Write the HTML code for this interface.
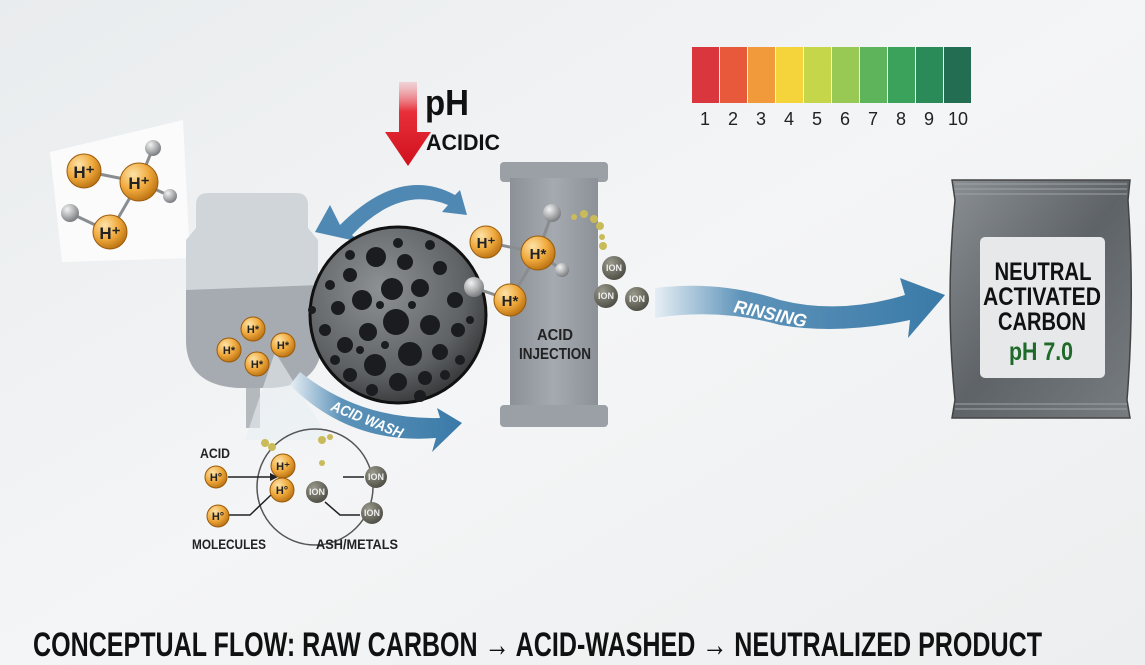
<!DOCTYPE html>
<html><head><meta charset="utf-8"><style>
html,body{margin:0;padding:0;width:1145px;height:665px;overflow:hidden;background:#eef0f1}
svg{display:block}
text{font-family:"Liberation Sans Narrow","Liberation Sans",sans-serif;font-weight:bold}
</style></head><body>
<svg width="1145" height="665" viewBox="0 0 1145 665" xmlns="http://www.w3.org/2000/svg">
<defs>
<linearGradient id="bg" x1="0" y1="0" x2="1" y2="1"><stop offset="0" stop-color="#e9ecee"/><stop offset="0.5" stop-color="#f4f5f6"/><stop offset="1" stop-color="#eceeef"/></linearGradient>
<radialGradient id="hg" cx="0.35" cy="0.3" r="0.75"><stop offset="0" stop-color="#fde3a8"/><stop offset="0.55" stop-color="#f0a93c"/><stop offset="1" stop-color="#b86f10"/></radialGradient>
<radialGradient id="gb" cx="0.35" cy="0.3" r="0.7"><stop offset="0" stop-color="#f2f2f2"/><stop offset="1" stop-color="#7d8083"/></radialGradient>
<radialGradient id="ion" cx="0.35" cy="0.3" r="0.75"><stop offset="0" stop-color="#9a998c"/><stop offset="1" stop-color="#4d4c43"/></radialGradient>
<radialGradient id="sph" cx="0.4" cy="0.35" r="0.7"><stop offset="0" stop-color="#8e9194"/><stop offset="0.7" stop-color="#5e6164"/><stop offset="1" stop-color="#333436"/></radialGradient>
<linearGradient id="red" x1="0" y1="0" x2="0" y2="1"><stop offset="0" stop-color="#f0b5b9" stop-opacity="0.5"/><stop offset="0.35" stop-color="#e8303a"/><stop offset="1" stop-color="#d0101c"/></linearGradient>
<linearGradient id="blue" x1="0" y1="0" x2="1" y2="0"><stop offset="0" stop-color="#e6eef4"/><stop offset="0.3" stop-color="#5d93b9"/><stop offset="1" stop-color="#3a7aa8"/></linearGradient>
<linearGradient id="bag" x1="0" y1="0" x2="1" y2="1"><stop offset="0" stop-color="#8a8f93"/><stop offset="0.5" stop-color="#5e6368"/><stop offset="1" stop-color="#777c80"/></linearGradient>
<linearGradient id="col" x1="0" y1="0" x2="1" y2="0"><stop offset="0" stop-color="#8b9197"/><stop offset="0.5" stop-color="#a4aab0"/><stop offset="1" stop-color="#8b9197"/></linearGradient>
</defs>
<rect width="1145" height="665" fill="url(#bg)"/>

<g>
<rect x="692" y="47" width="27" height="56" fill="#d9363e"/>
<rect x="720" y="47" width="27" height="56" fill="#e8583a"/>
<rect x="748" y="47" width="27" height="56" fill="#f09a3c"/>
<rect x="776" y="47" width="27" height="56" fill="#f5d33a"/>
<rect x="804" y="47" width="27" height="56" fill="#c6d64a"/>
<rect x="832" y="47" width="27" height="56" fill="#98c955"/>
<rect x="860" y="47" width="27" height="56" fill="#5db45a"/>
<rect x="888" y="47" width="27" height="56" fill="#3aa25a"/>
<rect x="916" y="47" width="27" height="56" fill="#2a8a58"/>
<rect x="944" y="47" width="27" height="56" fill="#236e52"/>
<g font-size="18" fill="#222" text-anchor="middle">
<text x="705" y="125" style="font-weight:normal">1</text><text x="733" y="125" style="font-weight:normal">2</text><text x="761" y="125" style="font-weight:normal">3</text><text x="789" y="125" style="font-weight:normal">4</text><text x="817" y="125" style="font-weight:normal">5</text><text x="845" y="125" style="font-weight:normal">6</text><text x="873" y="125" style="font-weight:normal">7</text><text x="901" y="125" style="font-weight:normal">8</text><text x="929" y="125" style="font-weight:normal">9</text><text x="958" y="125" style="font-weight:normal">10</text>
</g>
</g>

<path d="M399 82 L417 82 L417 132 L431 132 L408 166 L385 132 L399 132 Z" fill="url(#red)"/>
<text x="425" y="115" font-size="36" fill="#111" textLength="44" lengthAdjust="spacingAndGlyphs">pH</text>
<text x="426" y="150" font-size="22" fill="#111" textLength="74" lengthAdjust="spacingAndGlyphs">ACIDIC</text>

<polygon points="50,152 183,120 190,258 62,262" fill="#fbfbfb"/>
<g stroke="#8a8d90" stroke-width="3">
<line x1="84" y1="171" x2="139" y2="182"/><line x1="139" y1="182" x2="153" y2="148"/><line x1="139" y1="182" x2="170" y2="196"/><line x1="139" y1="182" x2="110" y2="232"/><line x1="110" y1="232" x2="70" y2="213"/>
</g>
<circle cx="153" cy="148" r="8" fill="url(#gb)"/><circle cx="170" cy="196" r="7" fill="url(#gb)"/><circle cx="70" cy="213" r="9" fill="url(#gb)"/>
<g font-size="17" fill="#222" text-anchor="middle">
<circle cx="84" cy="171" r="17" fill="url(#hg)" stroke="#9a5b0c"/><text x="84" y="178">H⁺</text>
<circle cx="139" cy="182" r="19" fill="url(#hg)" stroke="#9a5b0c"/><text x="139" y="189">H⁺</text>
<circle cx="110" cy="232" r="17" fill="url(#hg)" stroke="#9a5b0c"/><text x="110" y="239">H⁺</text>
</g>

<path d="M196 205 Q196 193 208 193 L296 193 Q308 193 308 205 L308 228 L318 240 L318 290 L186 290 L186 240 L196 228 Z" fill="#d0d5d9"/>
<path d="M186 290 L320 285 L322 340 Q322 385 272 388 L238 388 Q186 385 186 340 Z" fill="#a5abb0"/>
<rect x="246" y="388" width="14" height="40" fill="#b4b9bd"/>
<polygon points="275,352 245,440 330,440" fill="#e8eef2" opacity="0.6"/>
<g font-size="11" fill="#222" text-anchor="middle">
<circle cx="253" cy="329" r="12" fill="url(#hg)" stroke="#9a5b0c"/><text x="253" y="333">H*</text>
<circle cx="229" cy="350" r="12" fill="url(#hg)" stroke="#9a5b0c"/><text x="229" y="354">H*</text>
<circle cx="283" cy="345" r="12" fill="url(#hg)" stroke="#9a5b0c"/><text x="283" y="349">H*</text>
<circle cx="257" cy="364" r="12" fill="url(#hg)" stroke="#9a5b0c"/><text x="257" y="368">H*</text>
</g>

<path d="M340 225 Q400 165 455 195 L460 190 L467 215 L442 212 L448 205 Q400 185 352 235 L360 242 L315 232 L330 205 Z" fill="#4f88b3"/>

<rect x="500" y="162" width="108" height="20" rx="4" fill="#9aa0a6"/>
<rect x="510" y="178" width="88" height="230" fill="url(#col)"/>
<rect x="500" y="405" width="108" height="22" rx="4" fill="#9aa0a6"/>
<text x="555" y="340" font-size="16" fill="#222" text-anchor="middle" textLength="36" lengthAdjust="spacingAndGlyphs">ACID</text>
<text x="555" y="359" font-size="16" fill="#222" text-anchor="middle" textLength="72" lengthAdjust="spacingAndGlyphs">INJECTION</text>

<circle cx="398" cy="315" r="88" fill="url(#sph)" stroke="#111" stroke-width="3"/>
<g fill="#1a1c1f">
<circle cx="376" cy="257" r="10"/><circle cx="405" cy="262" r="8"/><circle cx="350" cy="275" r="7"/><circle cx="420" cy="288" r="9"/><circle cx="392" cy="289" r="11"/><circle cx="362" cy="300" r="10"/><circle cx="338" cy="308" r="7"/><circle cx="396" cy="322" r="13"/><circle cx="430" cy="325" r="10"/><circle cx="368" cy="332" r="9"/><circle cx="345" cy="345" r="8"/><circle cx="410" cy="354" r="12"/><circle cx="440" cy="352" r="8"/><circle cx="375" cy="365" r="11"/><circle cx="350" cy="375" r="7"/><circle cx="398" cy="382" r="9"/><circle cx="425" cy="378" r="7"/><circle cx="455" cy="300" r="8"/><circle cx="458" cy="330" r="7"/><circle cx="330" cy="285" r="5"/><circle cx="325" cy="330" r="6"/><circle cx="440" cy="268" r="7"/><circle cx="372" cy="390" r="6"/><circle cx="420" cy="396" r="6"/><circle cx="460" cy="360" r="5"/><circle cx="335" cy="360" r="5"/><circle cx="350" cy="255" r="5"/><circle cx="430" cy="245" r="5"/><circle cx="398" cy="243" r="5"/><circle cx="445" cy="375" r="5"/><circle cx="312" cy="310" r="4"/><circle cx="470" cy="320" r="4"/><circle cx="380" cy="305" r="4"/><circle cx="412" cy="305" r="4"/><circle cx="385" cy="345" r="4"/><circle cx="360" cy="350" r="4"/>
</g>

<g stroke="#8a8d90" stroke-width="3">
<line x1="486" y1="242" x2="538" y2="253"/><line x1="538" y1="253" x2="552" y2="213"/><line x1="538" y1="253" x2="562" y2="270"/><line x1="538" y1="253" x2="510" y2="300"/><line x1="510" y1="300" x2="475" y2="288"/>
</g>
<circle cx="552" cy="213" r="9" fill="url(#gb)"/><circle cx="562" cy="270" r="7" fill="url(#gb)"/><circle cx="474" cy="287" r="10" fill="url(#gb)"/>
<g font-size="15" fill="#222" text-anchor="middle">
<circle cx="486" cy="242" r="16" fill="url(#hg)" stroke="#9a5b0c"/><text x="486" y="248">H⁺</text>
<circle cx="538" cy="253" r="17" fill="url(#hg)" stroke="#9a5b0c"/><text x="538" y="259">H*</text>
<circle cx="510" cy="300" r="16" fill="url(#hg)" stroke="#9a5b0c"/><text x="510" y="306">H*</text>
</g>
<g fill="#c9bb5a"><circle cx="574" cy="217" r="3"/><circle cx="584" cy="214" r="4"/><circle cx="594" cy="219" r="4"/><circle cx="600" cy="226" r="4"/><circle cx="602" cy="237" r="3"/><circle cx="603" cy="246" r="4"/></g>
<g font-size="9" fill="#eee" text-anchor="middle">
<circle cx="614" cy="268" r="12" fill="url(#ion)"/><text x="614" y="271">ION</text>
<circle cx="606" cy="296" r="12" fill="url(#ion)"/><text x="606" y="299">ION</text>
<circle cx="637" cy="299" r="12" fill="url(#ion)"/><text x="637" y="302">ION</text>
</g>

<path d="M300 372 Q360 420 440 418 L437 408 L462 423 L432 452 L436 438 Q350 445 290 385 Z" fill="url(#blue)"/>
<text x="330" y="410" font-size="15" fill="#fff" transform="rotate(22 330 410)" font-style="italic" textLength="76" lengthAdjust="spacingAndGlyphs">ACID WASH</text>

<path d="M655 288 Q720 280 780 300 Q840 315 905 295 L900 278 L945 295 L908 338 L910 320 Q840 335 780 325 Q720 308 655 318 Z" fill="url(#blue)"/>
<text x="733" y="312" font-size="18" fill="#fff" transform="rotate(12 733 312)" font-style="italic" textLength="74" lengthAdjust="spacingAndGlyphs">RINSING</text>

<path d="M952 180 L1130 180 L1128 200 Q1135 300 1127 400 L1130 418 L952 418 L955 400 Q945 300 955 200 Z" fill="url(#bag)" stroke="#444" stroke-width="1.5"/>
<path d="M955 184 L1127 184 M955 189 L1127 189 M955 194 L1127 194 M955 404 L1127 404 M955 409 L1127 409" stroke="#9ea3a7" stroke-width="1"/>
<rect x="980" y="237" width="125" height="141" rx="5" fill="#e6e8e9"/>
<g font-size="25" fill="#111" text-anchor="middle">
<text x="1043" y="280" textLength="97" lengthAdjust="spacingAndGlyphs">NEUTRAL</text>
<text x="1042" y="305" textLength="118" lengthAdjust="spacingAndGlyphs">ACTIVATED</text>
<text x="1042" y="330" textLength="88" lengthAdjust="spacingAndGlyphs">CARBON</text>
<text x="1041" y="360" fill="#1f6a2a" textLength="64" lengthAdjust="spacingAndGlyphs">pH 7.0</text>
</g>

<circle cx="315" cy="487" r="58" fill="none" stroke="#555" stroke-width="1.5"/>
<g stroke="#222" stroke-width="1.5" fill="none">
<line x1="228" y1="477" x2="270" y2="477"/><path d="M228 515 L250 515 L272 494"/>
<line x1="343" y1="477" x2="364" y2="477"/><path d="M325 502 L340 515 L360 515"/>
</g>
<polygon points="270,473 278,477 270,481" fill="#222"/>
<g fill="#c9bb5a"><circle cx="265" cy="443" r="4"/><circle cx="272" cy="447" r="4"/><circle cx="322" cy="440" r="4"/><circle cx="330" cy="437" r="3"/><circle cx="322" cy="463" r="3"/></g>
<g font-size="11" fill="#222" text-anchor="middle">
<circle cx="216" cy="477" r="11" fill="url(#hg)" stroke="#9a5b0c"/><text x="216" y="481">H°</text>
<circle cx="218" cy="516" r="11" fill="url(#hg)" stroke="#9a5b0c"/><text x="218" y="520">H°</text>
<circle cx="283" cy="466" r="12" fill="url(#hg)" stroke="#9a5b0c"/><text x="283" y="470">H⁺</text>
<circle cx="282" cy="490" r="12" fill="url(#hg)" stroke="#9a5b0c"/><text x="282" y="494">H°</text>
</g>
<g font-size="9" fill="#eee" text-anchor="middle">
<circle cx="317" cy="492" r="11" fill="url(#ion)"/><text x="317" y="495">ION</text>
<circle cx="376" cy="477" r="11" fill="url(#ion)"/><text x="376" y="480">ION</text>
<circle cx="372" cy="513" r="11" fill="url(#ion)"/><text x="372" y="516">ION</text>
</g>
<text x="215" y="458" font-size="14" fill="#222" text-anchor="middle" textLength="30" lengthAdjust="spacingAndGlyphs">ACID</text>
<text x="229" y="549" font-size="14" fill="#222" text-anchor="middle" textLength="74" lengthAdjust="spacingAndGlyphs">MOLECULES</text>
<text x="357" y="549" font-size="14" fill="#222" text-anchor="middle" textLength="82" lengthAdjust="spacingAndGlyphs">ASH/METALS</text>

<text x="33" y="656" font-size="34" fill="#111" textLength="1009" lengthAdjust="spacingAndGlyphs">CONCEPTUAL FLOW: RAW CARBON → ACID-WASHED → NEUTRALIZED PRODUCT</text>
</svg>
</body></html>
